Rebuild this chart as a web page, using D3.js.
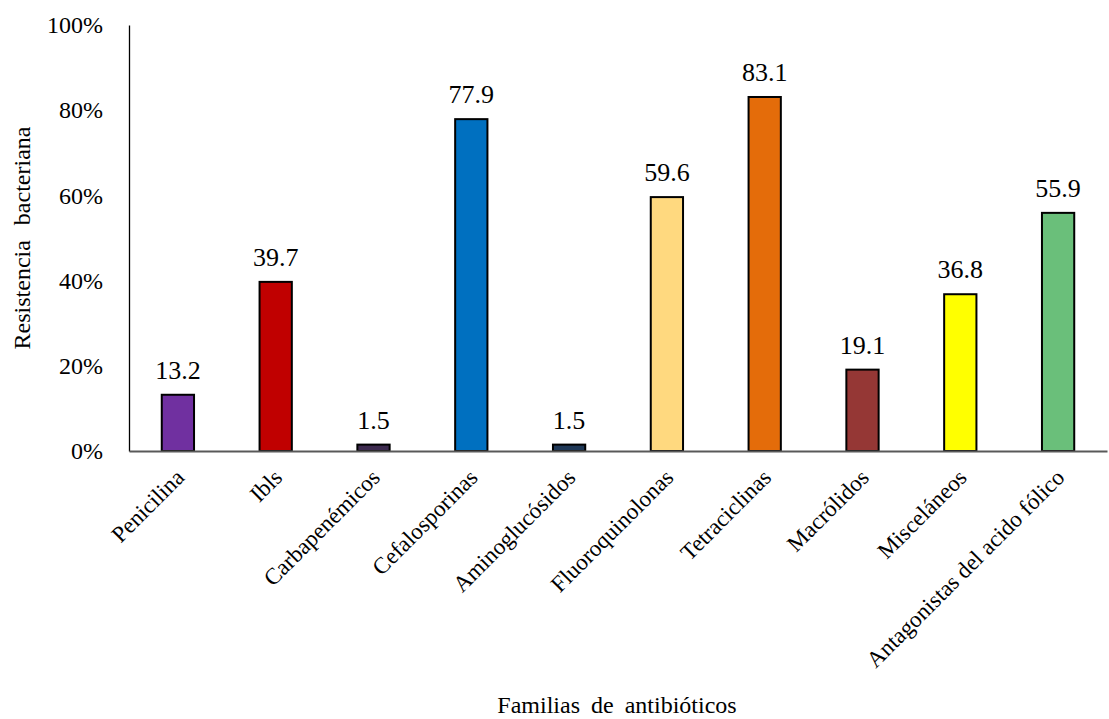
<!DOCTYPE html>
<html>
<head>
<meta charset="utf-8">
<script src="https://cdn.jsdelivr.net/npm/d3@7"></script>
<style>
  body { margin: 0; background: #fff; }
</style>
</head>
<body>
<svg id="chart" width="1109" height="719"></svg>
<script>
// Antibiotic families and bacterial resistance (%)
const categories = ["Penicilina", "Ibls", "Carbapenémicos", "Cefalosporinas", "Aminoglucósidos",
  "Fluoroquinolonas", "Tetraciclinas", "Macrólidos", "Misceláneos", "Antagonistas del acido fólico"];
const values = [13.2, 39.7, 1.5, 77.9, 1.5, 59.6, 83.1, 19.1, 36.8, 55.9];
const colors = ["#7030A0", "#C00000", "#3D2B4F", "#0070C0", "#1F3857",
  "#FFD97F", "#E46C0A", "#953735", "#FFFF00", "#6ABF7A"];
const yTicks = [0, 20, 40, 60, 80, 100];

const FONT = "'Liberation Serif', 'Times New Roman', serif";
const svg = d3.select("#chart").attr("font-family", FONT);
const margin = { left: 129, right: 2, top: 25, bottom: 268 };
const W = 1109, H = 719;

const x = d3.scaleBand().domain(categories)
  .range([margin.left, W - margin.right]).paddingInner(0.67).paddingOuter(0.335);
const y = d3.scaleLinear().domain([0, 100]).range([H - margin.bottom, margin.top]);

// Y axis
const yAxis = svg.append("g").attr("transform", `translate(${margin.left},0)`)
  .call(d3.axisLeft(y).tickValues(yTicks).tickSize(0).tickPadding(26).tickFormat(d => d + "%"));
yAxis.attr("font-family", FONT).attr("font-size", 24);
yAxis.select(".domain").attr("stroke", "#000").attr("stroke-width", 1.3);
yAxis.selectAll("text").attr("fill", "#000");

// Bars
svg.append("g").selectAll("rect").data(values).join("rect")
  .attr("x", (d, i) => x(categories[i]))
  .attr("width", x.bandwidth())
  .attr("y", d => y(d))
  .attr("height", d => y(0) - y(d))
  .attr("fill", (d, i) => colors[i])
  .attr("stroke", "#000")
  .attr("stroke-width", 2);

// X axis
const xAxis = svg.append("g").attr("transform", `translate(0,${y(0)})`)
  .call(d3.axisBottom(x).tickSize(0).tickSizeOuter(0));
xAxis.attr("font-family", FONT).attr("font-size", 23);
xAxis.select(".domain").attr("stroke", "#595959").attr("stroke-width", 2);
xAxis.selectAll("text")
  .attr("fill", "#000")
  .attr("text-anchor", "end")
  .attr("dy", "0.35em")
  .attr("transform", "translate(0,20) rotate(-45)");

// Value labels
svg.append("g").attr("font-size", 26).selectAll("text").data(values).join("text")
  .attr("x", (d, i) => x(categories[i]) + x.bandwidth() / 2)
  .attr("y", d => y(d) - 16)
  .attr("text-anchor", "middle")
  .attr("fill", "#000")
  .text(d => d.toFixed(1));

// Axis titles
svg.append("text")
  .attr("x", 617).attr("y", 713)
  .attr("text-anchor", "middle")
  .attr("font-size", 24)
  .attr("word-spacing", 5)
  .text("Familias de antibióticos");

svg.append("text")
  .attr("transform", "translate(30,238) rotate(-90)")
  .attr("text-anchor", "middle")
  .attr("font-size", 24)
  .attr("word-spacing", 9)
  .text("Resistencia bacteriana");
</script>
</body>
</html>
